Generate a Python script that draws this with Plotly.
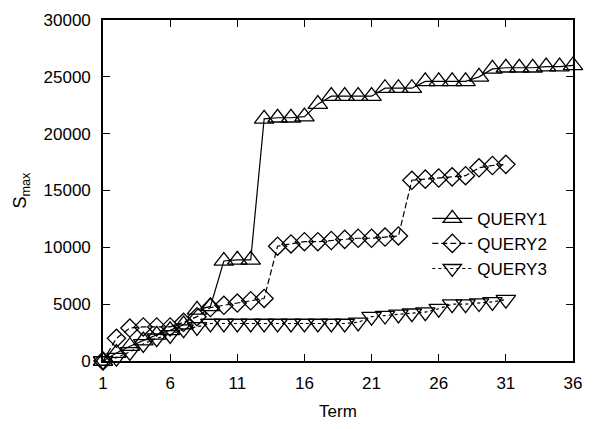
import plotly.graph_objects as go

terms1 = list(range(1, 37))
query1 = [0, 700, 1300, 1800, 2300, 2700, 3200, 4500, 4800, 8800, 8900, 8900,
          21300, 21400, 21400, 21500, 22600, 23300, 23300, 23300, 23300,
          24000, 24000, 24000, 24600, 24600, 24600, 24600, 25000, 25700,
          25800, 25800, 25800, 25900, 25900, 26000]

terms2 = list(range(1, 32))
query2 = [0, 2000, 2900, 3000, 3000, 3000, 3400, 3900, 4700, 4900, 5100, 5300,
          5500, 10100, 10300, 10500, 10500, 10600, 10700, 10800, 10800, 10900,
          11000, 15900, 16000, 16100, 16200, 16300, 17000, 17200, 17300]

terms3 = list(range(1, 32))
query3 = [0, 300, 800, 1500, 2000, 2300, 2800, 3000, 3300, 3300, 3300, 3300,
          3300, 3300, 3300, 3300, 3300, 3300, 3300, 3400, 3900, 4000, 4100,
          4200, 4300, 4600, 5000, 5000, 5100, 5200, 5400]

x_ticks = [1, 6, 11, 16, 21, 26, 31, 36]
y_ticks = [0, 5000, 10000, 15000, 20000, 25000, 30000]

font = "Liberation Sans, Arial, sans-serif"

fig = go.Figure()
fig.add_trace(go.Scatter(
    x=terms1, y=query1, name="QUERY1", mode="lines+markers",
    line=dict(color="black", width=1.2, dash="solid"),
    marker=dict(symbol="triangle-up-open", size=17, color="black",
                line=dict(width=1.3, color="black")),
    cliponaxis=False))
fig.add_trace(go.Scatter(
    x=terms2, y=query2, name="QUERY2", mode="lines+markers",
    line=dict(color="black", width=1.2, dash="6px,3px"),
    marker=dict(symbol="diamond-open", size=14, color="black",
                line=dict(width=1.3, color="black")),
    cliponaxis=False))
fig.add_trace(go.Scatter(
    x=terms3, y=query3, name="QUERY3", mode="lines+markers",
    line=dict(color="black", width=1.2, dash="3px,3px"),
    marker=dict(symbol="triangle-down-open", size=17, color="black",
                line=dict(width=1.3, color="black")),
    cliponaxis=False))

axis_common = dict(
    showgrid=False, zeroline=False, showline=True, linecolor="black",
    linewidth=1.6, mirror="ticks", ticks="inside", ticklen=7,
    tickwidth=1.3, tickcolor="black",
    tickfont=dict(family=font, size=17, color="black"),
)

fig.update_xaxes(range=[1, 36], tickvals=x_ticks, ticktext=[str(v) for v in x_ticks],
                 title=dict(text="Term", font=dict(family=font, size=17, color="black"),
                            standoff=13),
                 ticklabelstandoff=6, **axis_common)
fig.update_yaxes(range=[0, 30000], tickvals=y_ticks, ticktext=[str(v) for v in y_ticks],
                 title=dict(text="S<sub>max</sub>", font=dict(family=font, size=18, color="black"),
                            standoff=12),
                 ticklabelstandoff=7, **axis_common)

fig.update_layout(
    width=593, height=429,
    margin=dict(l=103, r=11, t=17, b=65),
    paper_bgcolor="white", plot_bgcolor="white",
    showlegend=True,
    legend=dict(x=0.69, y=0.47, xanchor="left", yanchor="top",
                bgcolor="rgba(0,0,0,0)", borderwidth=0,
                font=dict(family=font, size=17, color="black"),
                tracegroupgap=0, itemwidth=40),
)

fig.write_html("out.html")
